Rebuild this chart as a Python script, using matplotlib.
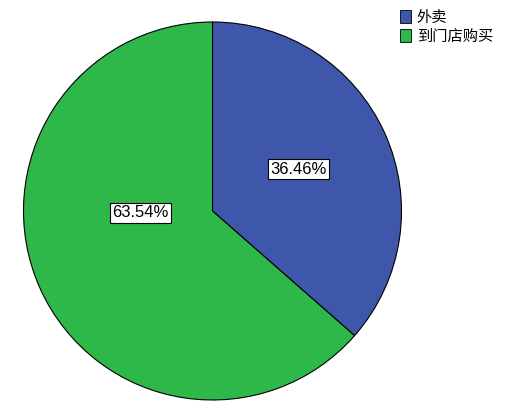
import matplotlib
matplotlib.use("Agg")
from matplotlib import pyplot as plt
from matplotlib.patches import Patch

plt.rcParams['font.family'] = ['Noto Sans CJK SC', 'DejaVu Sans']

# datos del gráfico
categorias = ["外卖", "到门店购买"]
porcentajes = [36.46, 63.54]
colores = ["#3f57ab", "#2fb84a"]
# posiciones de las etiquetas (relativas al radio)
pos_etiquetas = [(0.455, 0.22), (-0.38, -0.01)]

fig = plt.figure(figsize=(5.11, 4.09), dpi=100)
ax = fig.add_axes([23.5 / 511, 9 / 409, 378 / 511, 378 / 409])

ax.pie(porcentajes, colors=colores, startangle=90, counterclock=False,
       radius=1.0, wedgeprops=dict(edgecolor="black", linewidth=0.8))
ax.set_xlim(-1.0, 1.0)
ax.set_ylim(-1.0, 1.0)
ax.set_aspect("equal")
ax.axis("off")

for valor, (x, y) in zip(porcentajes, pos_etiquetas):
    ax.text(x, y, f"{valor:.2f}%", ha="center", va="center", fontsize=12,
            family=["Liberation Sans", "DejaVu Sans"],
            bbox=dict(boxstyle="square,pad=0.15", facecolor="white",
                      edgecolor="black", linewidth=0.8))

handles = [Patch(facecolor=c, edgecolor="black", linewidth=0.6) for c in colores]
fig.legend(handles, categorias, loc="upper left", bbox_to_anchor=(400 / 511, 1 - 9 / 409),
           frameon=False, fontsize=11, handlelength=0.75, handleheight=0.9,
           handletextpad=0.35, labelspacing=0.1, borderaxespad=0, borderpad=0)

fig.savefig("out.png", dpi=100)
